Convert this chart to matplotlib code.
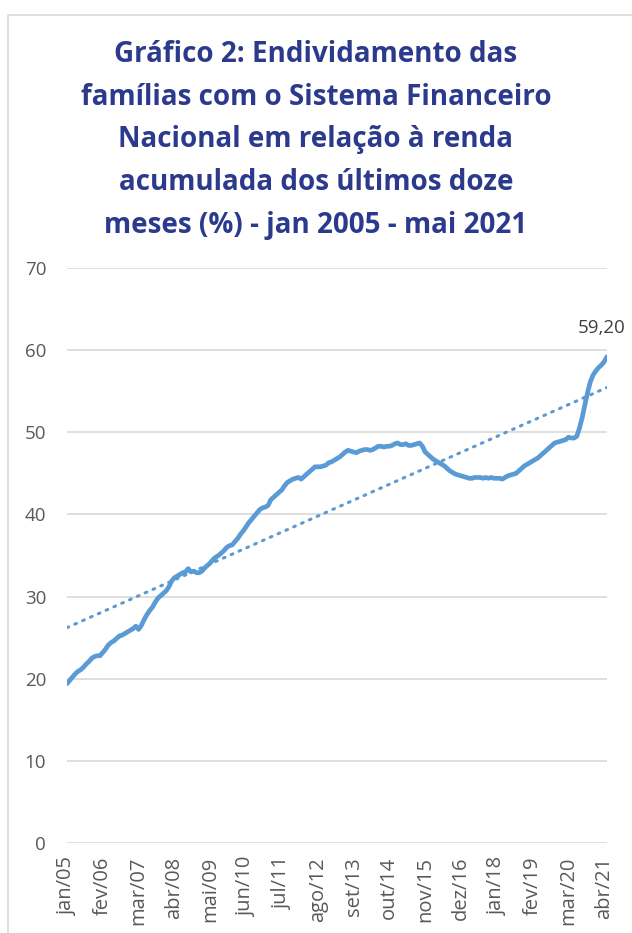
import matplotlib
matplotlib.use("Agg")
import matplotlib.pyplot as plt
import numpy as np
from matplotlib.patches import Rectangle

# ---- data ----
values = [
    # 2005
    19.4, 19.8, 20.2, 20.6, 20.9, 21.1, 21.4, 21.8, 22.1, 22.5, 22.7, 22.8,
    # 2006
    22.8, 23.2, 23.6, 24.1, 24.4, 24.6, 24.9, 25.2, 25.3, 25.5, 25.7, 25.9,
    # 2007
    26.1, 26.4, 26.0, 26.5, 27.2, 27.8, 28.3, 28.7, 29.3, 29.8, 30.1, 30.4,
    # 2008
    30.7, 31.2, 31.9, 32.3, 32.5, 32.7, 32.9, 33.0, 33.4, 33.0, 33.1, 32.9,
    # 2009
    32.9, 33.1, 33.5, 33.8, 34.1, 34.5, 34.8, 35.0, 35.3, 35.6, 36.0, 36.2,
    # 2010
    36.3, 36.7, 37.1, 37.6, 38.0, 38.5, 39.0, 39.4, 39.8, 40.2, 40.6, 40.8,
    # 2011
    40.9, 41.1, 41.8, 42.1, 42.4, 42.7, 43.0, 43.5, 43.9, 44.1, 44.3, 44.4,
    # 2012
    44.5, 44.3, 44.6, 44.9, 45.2, 45.5, 45.8, 45.8, 45.8, 45.9, 46.0, 46.3,
    # 2013
    46.4, 46.6, 46.8, 47.0, 47.3, 47.6, 47.8, 47.7, 47.6, 47.5, 47.7, 47.8,
    # 2014
    47.9, 47.9, 47.8, 47.9, 48.1, 48.3, 48.3, 48.2, 48.3, 48.3, 48.4, 48.6,
    # 2015
    48.7, 48.5, 48.5, 48.6, 48.4, 48.4, 48.5, 48.6, 48.7, 48.3, 47.6, 47.3,
    # 2016
    47.0, 46.7, 46.5, 46.3, 46.1, 45.9, 45.6, 45.3, 45.1, 44.9, 44.8, 44.7,
    # 2017
    44.6, 44.5, 44.4, 44.4, 44.5, 44.5, 44.5, 44.4, 44.5, 44.4, 44.5, 44.4,
    # 2018
    44.4, 44.4, 44.3, 44.5, 44.7, 44.8, 44.9, 45.0, 45.3, 45.6, 45.9, 46.1,
    # 2019
    46.3, 46.5, 46.7, 46.9, 47.2, 47.5, 47.8, 48.1, 48.4, 48.7, 48.8, 48.9,
    # 2020
    49.0, 49.1, 49.4, 49.3, 49.3, 49.5, 50.5, 51.8, 53.4, 54.9, 56.2, 57.0,
    # 2021
    57.5, 57.9, 58.2, 58.6, 59.2,
]
month_abbr = ["jan", "fev", "mar", "abr", "mai", "jun",
              "jul", "ago", "set", "out", "nov", "dez"]
start_year = 2005
tick_step = 13
last_label = "59,20"
y_ticks = [0, 10, 20, 30, 40, 50, 60, 70]
title = ("Gráfico 2: Endividamento das\nfamílias com o Sistema Financeiro\n"
         "Nacional em relação à renda\nacumulada dos últimos doze\n"
         "meses (%) - jan 2005 - mai 2021")

# ---- derived ----
n = len(values)
x = np.arange(n)
labels = [f"{month_abbr[i % 12]}/{(start_year + i // 12) % 100:02d}" for i in range(n)]
tick_idx = list(range(0, n, tick_step))
coef = np.polyfit(x, values, 1)
trend = np.polyval(coef, x)

line_color = "#5B9BD5"
grid_color = "#D9D9D9"
text_grey = "#595959"
title_color = "#2B3A8C"

fig = plt.figure(figsize=(6.32, 9.33), dpi=100)
fig.patch.set_facecolor("white")

# chart border
fig.patches.append(Rectangle((8 / 632, -0.05), 1.2, 1 - 15 / 933 + 0.05,
                             transform=fig.transFigure, fill=False,
                             edgecolor="#D9D9D9", linewidth=1.2))

ax = fig.add_axes([67 / 632, 1 - 843 / 933, (607 - 67) / 632, (843 - 268) / 933])
ax.set_facecolor("white")

ax.plot(x, trend, color=line_color, linestyle=(0, (0.6, 2.2)), linewidth=2.2,
        dash_capstyle="round", zorder=2)
ax.plot(x, values, color=line_color, linewidth=3.4, solid_capstyle="round",
        solid_joinstyle="round", zorder=3)

ax.annotate(last_label, (x[-1], values[-1]), xytext=(-4, 14),
            textcoords="offset points", ha="center", va="bottom",
            fontsize=13.5, color="#404040", family="Open Sans")

ax.set_xlim(0, n - 1)
ax.set_ylim(0, 70)
ax.set_yticks(y_ticks)
ax.set_xticks(tick_idx)
ax.set_xticklabels([labels[i] for i in tick_idx], rotation=90)
ax.grid(axis="y", color=grid_color, linewidth=1.2)
ax.set_axisbelow(True)
for s in ["top", "right", "left", "bottom"]:
    ax.spines[s].set_visible(False)
ax.tick_params(axis="both", length=0, colors=text_grey)
ax.tick_params(axis="y", pad=15, labelsize=13.5)
ax.tick_params(axis="x", pad=10, labelsize=14.5)
for t in ax.get_xticklabels() + ax.get_yticklabels():
    t.set_family("Open Sans")

fig.text(0.5, 1 - 140 / 933, title, ha="center", va="center",
         fontsize=20, fontweight="bold", color=title_color,
         family="Open Sans", linespacing=1.63)

fig.savefig("out.png", dpi=100, facecolor="white")
